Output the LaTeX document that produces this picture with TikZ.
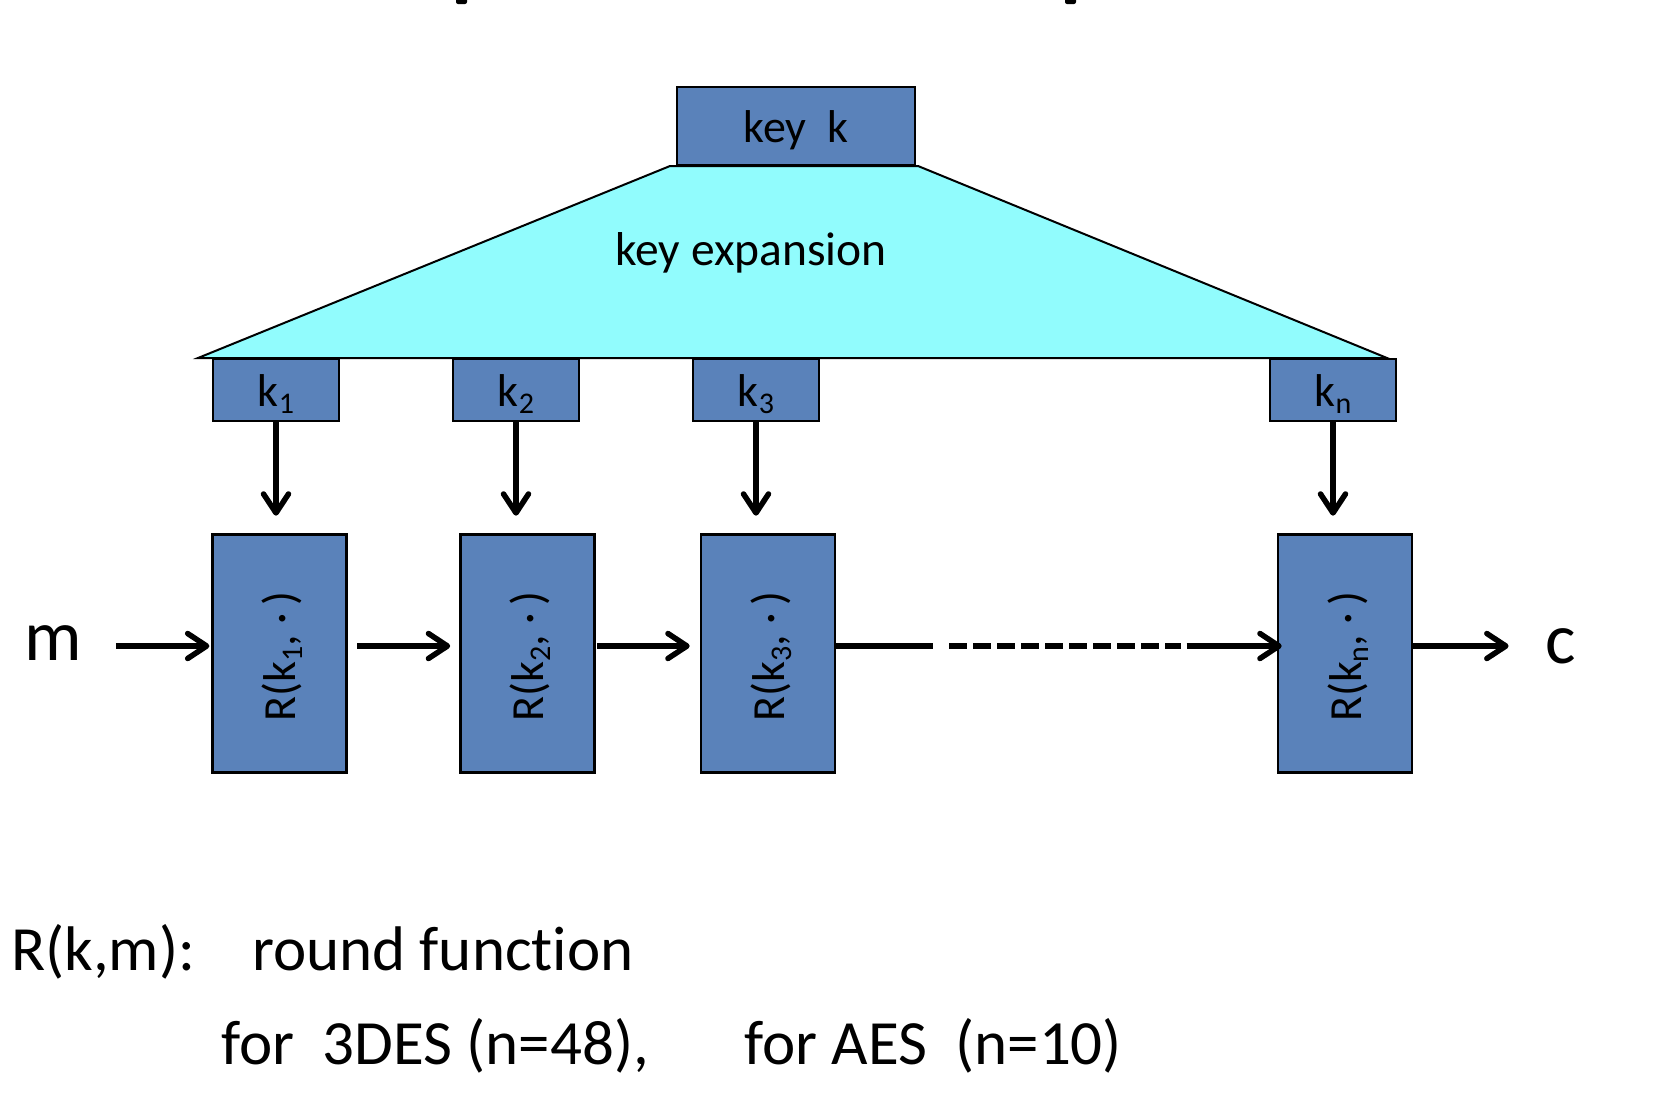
\documentclass[tikz,border=0pt]{standalone}
\usepackage{fontspec}
\setmainfont{Carlito}[Ligatures=NoCommon]
\usetikzlibrary{arrows.meta,calc}
\definecolor{boxblue}{RGB}{90,130,186}
\definecolor{expcyan}{RGB}{145,252,253}
\newcommand{\sbs}[1]{\raisebox{-7pt}{\fontsize{30}{30}\selectfont #1}}
\begin{document}
\begin{tikzpicture}[x=1pt,y=-1pt,
  arr/.style={line width=5.5pt,-{Straight Barb[length=19pt,width=25pt,line cap=round,line join=round]}},
  seg/.style={line width=5.5pt},
  kbox/.style={draw=black,line width=2.6pt,fill=boxblue,inner sep=0pt,minimum width=126pt,minimum height=62pt,text height=32pt,text depth=0pt,font=\fontsize{46}{50}\selectfont},
  rbox/.style={draw=black,line width=2.6pt,fill=boxblue,inner sep=0pt,minimum width=134pt,minimum height=238pt},
  rlabel/.style={rotate=90,inner sep=0pt,text height=32pt,text depth=0pt,font=\fontsize{46}{50}\selectfont},
  big/.style={inner sep=0pt,font=\fontsize{72}{80}\selectfont},
  note/.style={inner sep=0pt,anchor=base west,font=\fontsize{63}{70}\selectfont}]
\useasboundingbox (0,0) rectangle (1674,1096);
\fill[white] (0,0) rectangle (1674,1096);
% fragments of the cut-off title
\fill[rounded corners=2pt] (456,-6) rectangle (467,4);
\fill[rounded corners=2pt] (1065,-6) rectangle (1076,4);
% key expansion trapezoid
\filldraw[fill=expcyan,draw=black,line width=2pt] (670,166) -- (918,166) -- (1387,358) -- (198,358) -- cycle;
\node[kbox,minimum width=238pt,minimum height=78pt] (key) at (796,126) {key\ \ k};
\node[inner sep=0pt,anchor=base,font=\fontsize{47.5}{50}\selectfont] (kexp) at (751,265) {key expansion};
% round keys
\node[kbox] (k1) at (276,390) {k\sbs{1}};
\node[kbox] (k2) at (516,390) {k\sbs{2}};
\node[kbox] (k3) at (756,390) {k\sbs{3}};
\node[kbox] (kn) at (1333,390) {k\sbs{n}};
% round functions
\node[rbox] (R1) at (279.7,653.5) {};
\node[rbox] (R2) at (527.5,653.5) {};
\node[rbox] (R3) at (768,653.5) {};
\node[rbox] (Rn) at (1345,653.5) {};
\node[rlabel] (R1t) at ($(R1)+(0,3)$) {R(k\sbs{1},\ ·\,)};
\node[rlabel] (R2t) at ($(R2)+(0,3)$) {R(k\sbs{2},\ ·\,)};
\node[rlabel] (R3t) at ($(R3)+(0,3)$) {R(k\sbs{3},\ ·\,)};
\node[rlabel] (Rnt) at ($(Rn)+(0,3)$) {R(k\sbs{n},\ ·\,)};
% input / output
\node[big] (m) at (53,643) {m};
\node[big] (c) at (1561,646) {c};
\coordinate (row) at (0,646);
% key arrows
\foreach \k/\r in {k1/R1,k2/R2,k3/R3,kn/Rn}
  \draw[arr] (\k.south) -- ($(\k.south |- \r.north)+(0,-17.5)$);
% data path
\draw[arr] ($(m.east|-row)+(34,0)$) -- ($(R1.west|-row)+(-2,0)$);
\draw[arr] ($(R1.east|-row)+(9,0)$) -- ($(R2.west|-row)+(-9,0)$);
\draw[arr] ($(R2.east|-row)+(1,0)$) -- ($(R3.west|-row)+(-10,0)$);
\coordinate (d1) at ($(R3.east|-row)+(96.7,0)$);
\coordinate (d2) at ($(R3.east|-row)+(113,0)$);
\coordinate (d3) at ($(Rn.west|-row)+(-96,0)$);
\coordinate (d4) at ($(Rn.west|-row)+(-90,0)$);
\draw[seg] (R3.east|-row) -- (d1);
\draw[seg,dash pattern=on 18pt off 6pt] (d2) -- (d3);
\draw[arr] (d4) -- ($(Rn.west|-row)+(5,0)$);
\draw[arr] (Rn.east|-row) -- ($(c.west|-row)+(-37,0)$);
% legend
\node[note] (rkm) at (11,970) {R(k,m):};
\node[note] (rf) at (252,970) {round function};
\node[note] (f1) at (221,1064) {for\ \ 3DES (n=48),};
\node[note] (f2) at (744,1064) {for AES\ \ (n=10)};
\end{tikzpicture}
\end{document}
